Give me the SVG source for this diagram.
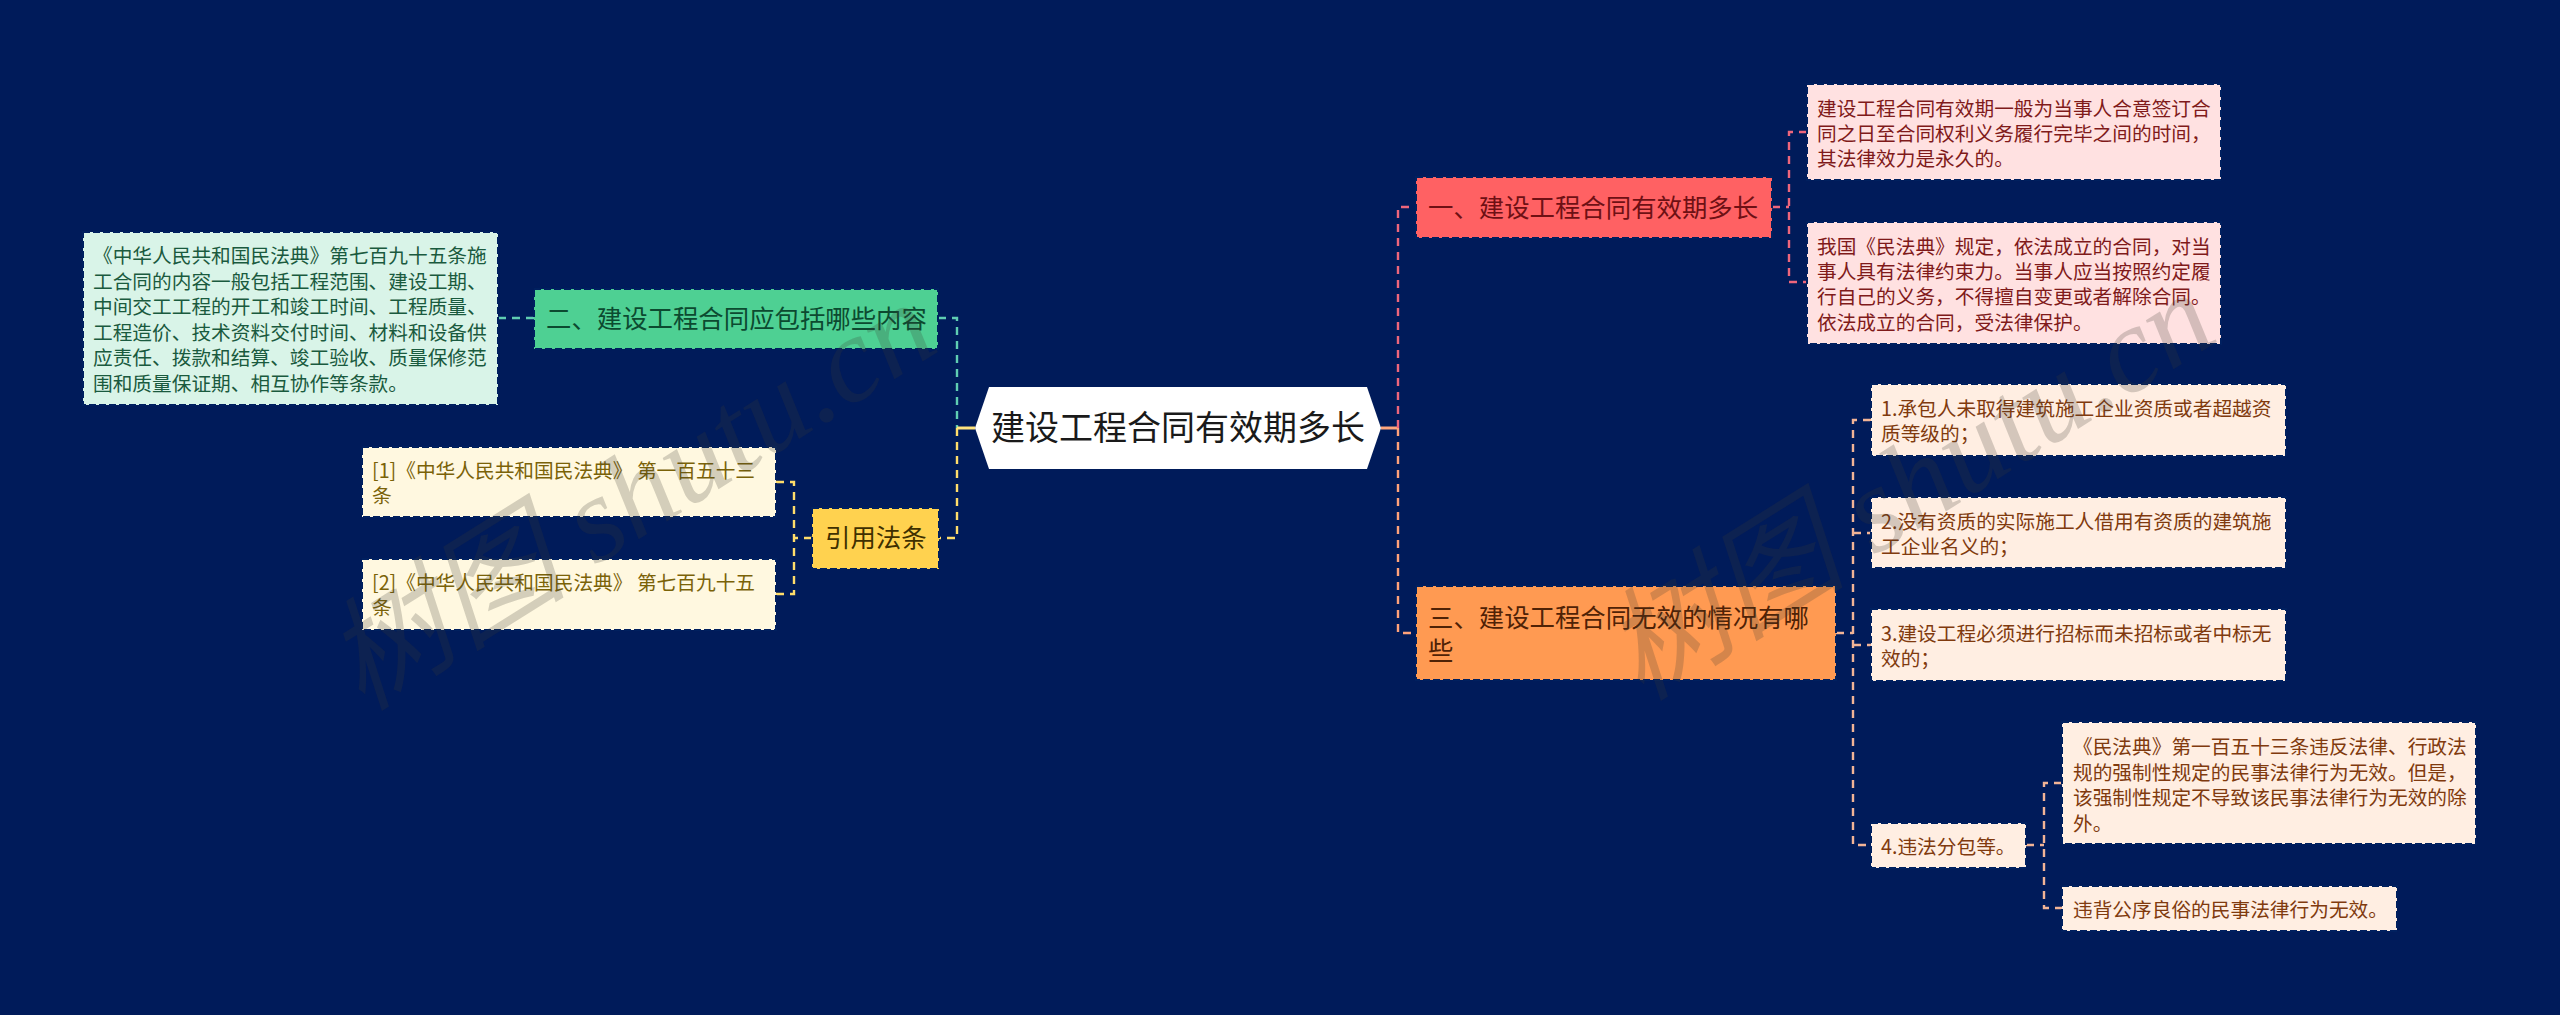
<svg xmlns="http://www.w3.org/2000/svg" width="2560" height="1015" viewBox="0 0 2560 1015">
<style>
text{font-family:"Noto Sans CJK SC","Noto Sans",sans-serif}
.b{stroke:#00205f;stroke-width:2;stroke-dasharray:7 3}
.t{font-size:25.4px}
.s{font-size:19.7px}
.c{fill:none;stroke-width:2.4;stroke-dasharray:8 6}
.wm{font-family:"Liberation Serif","Noto Sans CJK SC",serif;font-style:italic;font-size:122px;fill:rgb(60,60,50);fill-opacity:.22}
</style>
<rect width="2560" height="1015" fill="#001b5a"/>
<g id="connectors">
<path class="c" stroke="#5fcdb2" d="M498 318H534M938 318H957V428"/>
<path class="c" stroke="#ffdd6a" d="M957 428V538H939M812 538H794M776 482H794V594H776"/>
<path fill="none" stroke="#ffe47e" stroke-width="3" d="M957 428H975"/>
<path fill="none" stroke="#ffa67c" stroke-width="3" d="M1381 428H1398"/>
<path class="c" stroke="#ee667c" d="M1398 428V207H1416M1772 207H1789M1807 132H1789V282H1807"/>
<path class="c" stroke="#ffa27a" d="M1398 428V633H1416"/>
<path class="c" stroke="#f2b496" d="M1836 633H1853M1871 420H1853V845H1871M1853 533H1871M1853 645H1871M2026 845H2044M2062 783H2044V908H2062"/>
</g>
<g id="root">
<polygon points="975,428 989,387 1367,387 1381,428 1367,469 989,469" fill="#fff"/>
<text x="1178" y="440" text-anchor="middle" font-size="34" fill="#1a1a1a">建设工程合同有效期多长</text>
</g>
<g id="n1">
<rect class="b" x="1416" y="177" width="356" height="61" fill="#ff6163"/>
<text class="t" x="1428" y="217" fill="#6e1014">一、建设工程合同有效期多长</text>
</g>
<g id="n1a">
<rect class="b" x="1807" y="84" width="414" height="96" fill="#ffe1e1"/>
<text class="s" fill="#7f1a1a"><tspan x="1817" y="116">建设工程合同有效期一般为当事人合意签订合</tspan><tspan x="1817" y="141">同之日至合同权利义务履行完毕之间的时间，</tspan><tspan x="1817" y="166">其法律效力是永久的。</tspan></text>
</g>
<g id="n1b">
<rect class="b" x="1807" y="222" width="414" height="122" fill="#ffe1e1"/>
<text class="s" fill="#7f1a1a"><tspan x="1817" y="254">我国《民法典》规定，依法成立的合同，对当</tspan><tspan x="1817" y="279">事人具有法律约束力。当事人应当按照约定履</tspan><tspan x="1817" y="304">行自己的义务，不得擅自变更或者解除合同。</tspan><tspan x="1817" y="330">依法成立的合同，受法律保护。</tspan></text>
</g>
<g id="n2">
<rect class="b" x="534" y="289" width="404" height="60" fill="#4ed093"/>
<text class="t" x="546" y="328" fill="#0c4a30">二、建设工程合同应包括哪些内容</text>
</g>
<g id="n2a">
<rect class="b" x="83" y="232" width="415" height="173" fill="#d9f4e8"/>
<text class="s" fill="#1a5a3e"><tspan x="93" y="263">《中华人民共和国民法典》第七百九十五条施</tspan><tspan x="93" y="289">工合同的内容一般包括工程范围、建设工期、</tspan><tspan x="93" y="314">中间交工工程的开工和竣工时间、工程质量、</tspan><tspan x="93" y="340">工程造价、技术资料交付时间、材料和设备供</tspan><tspan x="93" y="365">应责任、拨款和结算、竣工验收、质量保修范</tspan><tspan x="93" y="391">围和质量保证期、相互协作等条款。</tspan></text>
</g>
<g id="n3">
<rect class="b" x="812" y="508" width="127" height="61" fill="#ffd24f"/>
<text class="t" x="825" y="547" fill="#3f3000">引用法条</text>
</g>
<g id="n3a">
<rect class="b" x="362" y="447" width="414" height="70" fill="#fff8e0"/>
<text class="s" fill="#7a6208"><tspan x="372" y="478">[1]《中华人民共和国民法典》 第一百五十三</tspan><tspan x="372" y="503">条</tspan></text>
</g>
<g id="n3b">
<rect class="b" x="362" y="559" width="414" height="71" fill="#fff8e0"/>
<text class="s" fill="#7a6208"><tspan x="372" y="590">[2]《中华人民共和国民法典》 第七百九十五</tspan><tspan x="372" y="615">条</tspan></text>
</g>
<g id="n4">
<rect class="b" x="1416" y="586" width="420" height="94" fill="#ff9a52"/>
<text class="t" fill="#4f2206"><tspan x="1428" y="627">三、建设工程合同无效的情况有哪</tspan><tspan x="1428" y="660">些</tspan></text>
</g>
<g id="n4a">
<rect class="b" x="1871" y="384" width="415" height="72" fill="#ffeee2"/>
<text class="s" fill="#803a0e"><tspan x="1881" y="416">1.承包人未取得建筑施工企业资质或者超越资</tspan><tspan x="1881" y="441">质等级的；</tspan></text>
</g>
<g id="n4b">
<rect class="b" x="1871" y="497" width="415" height="71" fill="#ffeee2"/>
<text class="s" fill="#803a0e"><tspan x="1881" y="529">2.没有资质的实际施工人借用有资质的建筑施</tspan><tspan x="1881" y="554">工企业名义的；</tspan></text>
</g>
<g id="n4c">
<rect class="b" x="1871" y="609" width="415" height="72" fill="#ffeee2"/>
<text class="s" fill="#803a0e"><tspan x="1881" y="641">3.建设工程必须进行招标而未招标或者中标无</tspan><tspan x="1881" y="666">效的；</tspan></text>
</g>
<g id="n4d">
<rect class="b" x="1871" y="823" width="155" height="45" fill="#ffeee2"/>
<text class="s" x="1881" y="854" fill="#803a0e">4.违法分包等。</text>
</g>
<g id="n4d1">
<rect class="b" x="2062" y="722" width="414" height="122" fill="#ffeee2"/>
<text class="s" fill="#803a0e"><tspan x="2073" y="754">《民法典》第一百五十三条违反法律、行政法</tspan><tspan x="2073" y="780">规的强制性规定的民事法律行为无效。但是，</tspan><tspan x="2073" y="805">该强制性规定不导致该民事法律行为无效的除</tspan><tspan x="2073" y="831">外。</tspan></text>
</g>
<g id="n4d2">
<rect class="b" x="2062" y="886" width="335" height="45" fill="#ffeee2"/>
<text class="s" x="2073" y="917" fill="#803a0e">违背公序良俗的民事法律行为无效。</text>
</g>
<text class="wm" transform="translate(362 712) rotate(-32)">树图 shutu.cn</text>
<text class="wm" transform="translate(1641 702) rotate(-32)">树图 shutu.cn</text>
</svg>
